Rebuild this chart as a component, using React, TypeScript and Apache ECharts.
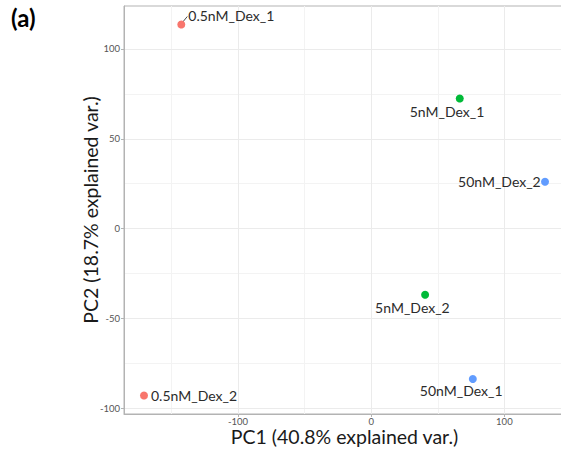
import React, { useEffect, useRef } from "react";
import * as echarts from "echarts";

// ---- data ----
const sampleNames = ["0.5nM_Dex_1", "0.5nM_Dex_2", "5nM_Dex_1", "5nM_Dex_2", "50nM_Dex_1", "50nM_Dex_2"];
const pc1 = [-142.5, -170.5, 66.5, 40.5, 76.3, 130.5];
const pc2 = [113.6, -92.9, 72.4, -36.8, -83.7, 26.1];
const groups = ["0.5nM", "0.5nM", "5nM", "5nM", "50nM", "50nM"];

const xMajorTicks = [-100, 0, 100];
const xMinorTicks = [-150, -50, 50];
const yMajorTicks = [-100, -50, 0, 50, 100];
const yMinorTicks = [-75, -25, 25, 75];

const xTitle = "PC1 (40.8% explained var.)";
const yTitle = "PC2 (18.7% explained var.)";
const panelTag = "(a)";

// ---- styling ----
const groupColors: Record<string, string> = {
  "0.5nM": "#F8766D",
  "5nM": "#00BA38",
  "50nM": "#619CFF",
};
// label offset (left edge, vertical centre) relative to the point, in px
const labelOffsets = [
  [7, -9],
  [7, 0],
  [-50, 13],
  [-50, 13],
  [-53, 12],
  [-87, 0],
];
const segmentSamples = [0];

const X_MIN = -185.5;
const X_MAX = 145.5;
const Y_MIN = -103.2;
const Y_MAX = 123.9;

const FONT = "Lato, 'Open Sans', sans-serif";
const MAJOR = "#ebebeb";
const MINOR = "#f3f3f3";
const BORDER = "#b3b3b3";

export default function App() {
  const ref = useRef<HTMLDivElement>(null);

  useEffect(() => {
    if (!ref.current) return;
    const chart = echarts.init(ref.current, undefined, { renderer: "svg" });

    const scatterData = sampleNames.map((n, i) => ({
      value: [pc1[i], pc2[i]],
      name: n,
      itemStyle: { color: groupColors[groups[i]], opacity: 1 },
      label: {
        show: true,
        formatter: n,
        position: "inside",
        align: "left",
        verticalAlign: "middle",
        offset: labelOffsets[i],
      },
    }));

    chart.setOption({
      animation: false,
      grid: {
        left: 124,
        top: 6,
        width: 441,
        height: 408,
        show: true,
        borderColor: BORDER,
        borderWidth: 1,
        outerBoundsMode: "none",
      },
      xAxis: [
        {
          type: "value",
          min: X_MIN,
          max: X_MAX,
          name: xTitle,
          nameLocation: "middle",
          nameGap: 13,
          nameMoveOverlap: false,
          nameTextStyle: {
            fontFamily: FONT,
            fontSize: 19.5,
            lineHeight: 18,
            color: "#1a1a1a",
            verticalAlign: "top",
          },
          axisLine: { show: true, onZero: false, lineStyle: { color: BORDER, width: 1 } },
          axisTick: { show: true, length: 3, customValues: xMajorTicks, lineStyle: { color: BORDER } },
          axisLabel: {
            customValues: xMajorTicks,
            fontFamily: FONT,
            fontSize: 9.5,
            lineHeight: 9,
            color: "#555",
            margin: 3,
          },
          splitLine: { show: true, lineStyle: { color: MAJOR, width: 1 } },
          z: 3,
        },
        {
          type: "value",
          min: X_MIN,
          max: X_MAX,
          axisLine: { show: false, onZero: false },
          axisTick: { show: false, customValues: xMinorTicks },
          axisLabel: { show: false, customValues: xMinorTicks },
          splitLine: { show: true, lineStyle: { color: MINOR, width: 1 } },
          z: 1,
        },
      ],
      yAxis: [
        {
          type: "value",
          min: Y_MIN,
          max: Y_MAX,
          name: yTitle,
          nameLocation: "middle",
          nameGap: 24,
          nameMoveOverlap: false,
          nameTextStyle: { fontFamily: FONT, fontSize: 19.5, color: "#1a1a1a" },
          axisLine: { show: true, onZero: false, lineStyle: { color: BORDER, width: 1 } },
          axisTick: { show: true, length: 3, customValues: yMajorTicks, lineStyle: { color: BORDER } },
          axisLabel: {
            customValues: yMajorTicks,
            fontFamily: FONT,
            fontSize: 9.5,
            color: "#555",
            margin: 4,
          },
          splitLine: { show: true, lineStyle: { color: MAJOR, width: 1 } },
          z: 3,
        },
        {
          type: "value",
          min: Y_MIN,
          max: Y_MAX,
          axisLine: { show: false, onZero: false },
          axisTick: { show: false, customValues: yMinorTicks },
          axisLabel: { show: false, customValues: yMinorTicks },
          splitLine: { show: true, lineStyle: { color: MINOR, width: 1 } },
          z: 1,
        },
      ],
      graphic: [
        {
          type: "text",
          left: 11,
          top: 5,
          style: {
            text: panelTag,
            fontFamily: FONT,
            fontWeight: "bold",
            fontSize: 24,
            fill: "#000",
          },
        },
      ],
      series: [
        {
          type: "custom",
          xAxisIndex: 0,
          yAxisIndex: 0,
          silent: true,
          z: 4,
          data: segmentSamples.map((i) => [pc1[i], pc2[i]]),
          renderItem: (_params: any, api: any) => {
            const p = api.coord([api.value(0), api.value(1)]);
            return {
              type: "line",
              shape: { x1: p[0] + 1.5, y1: p[1] - 2.5, x2: p[0] + 6, y2: p[1] - 8 },
              style: { stroke: "#333", lineWidth: 0.9 },
            };
          },
        },
        {
          type: "scatter",
          xAxisIndex: 0,
          yAxisIndex: 0,
          symbolSize: 8,
          silent: true,
          z: 5,
          data: scatterData,
          label: {
            fontFamily: FONT,
            fontSize: 14,
            color: "#2b2b2b",
          },
          emphasis: { disabled: true },
        },
      ],
    });

    return () => chart.dispose();
  }, []);

  return (
    <div style={{ position: "fixed", left: 0, top: 0, width: 561, height: 451, overflow: "hidden", background: "#fff" }}>
      <div ref={ref} style={{ width: 580, height: 451 }} />
    </div>
  );
}
